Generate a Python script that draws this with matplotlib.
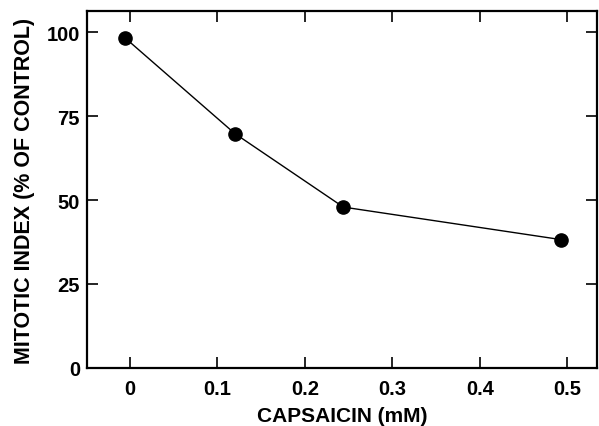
import matplotlib
matplotlib.use("Agg")
import matplotlib.pyplot as plt

capsaicin_mm = [-0.005, 0.12, 0.244, 0.493]
mitotic_index = [98.2, 69.8, 47.9, 38.2]

x_ticks = [0, 0.1, 0.2, 0.3, 0.4, 0.5]
x_tick_labels = ["0", "0.1", "0.2", "0.3", "0.4", "0.5"]
y_ticks = [0, 25, 50, 75, 100]

plt.rcParams["font.family"] = ["Liberation Sans", "DejaVu Sans"]
plt.rcParams["font.weight"] = "bold"

fig = plt.figure(figsize=(5.99, 4.27), dpi=100)
ax = fig.add_axes([0.145, 0.136, 0.852, 0.836])

ax.plot(capsaicin_mm, mitotic_index, color="black", linewidth=1.0,
        marker="o", markersize=9.5, markerfacecolor="black", markeredgecolor="black")

ax.set_xlim(-0.049, 0.534)
ax.set_ylim(0, 106.3)
ax.set_xticks(x_ticks)
ax.set_xticklabels(x_tick_labels)
ax.set_yticks(y_ticks)

ax.tick_params(direction="in", length=8, width=1.2, labelsize=14.5,
               top=True, right=True, pad=5)
ax.tick_params(axis="x", pad=8)
for lab in ax.get_xticklabels() + ax.get_yticklabels():
    lab.set_fontweight("bold")
for sp in ax.spines.values():
    sp.set_linewidth(1.6)

ax.set_xlabel("CAPSAICIN (mM)", fontsize=15, fontweight="bold", labelpad=6)
ax.set_ylabel("MITOTIC INDEX (% OF CONTROL)", fontsize=15.5, fontweight="bold", labelpad=8)

fig.savefig("out.png", dpi=100)
